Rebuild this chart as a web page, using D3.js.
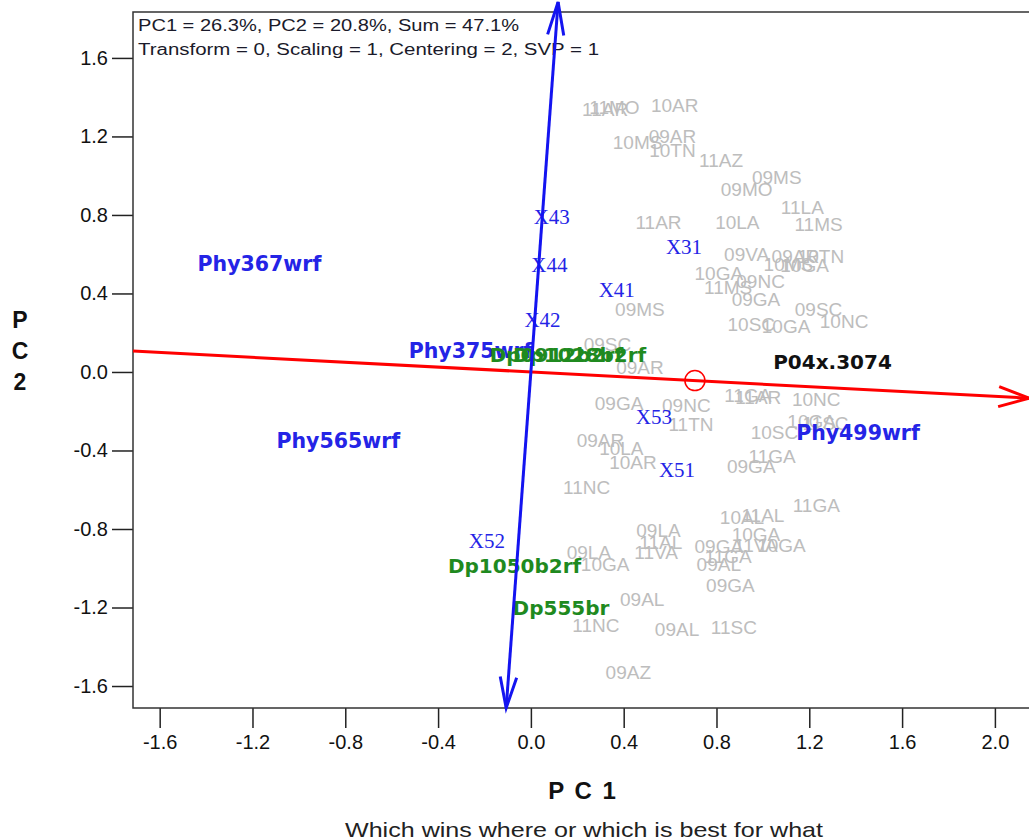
<!DOCTYPE html>
<html>
<head>
<meta charset="utf-8">
<script src="https://cdn.jsdelivr.net/npm/d3@7"></script>
<style>
  body { margin: 0; background: #fff; }
  svg { display: block; }
</style>
</head>
<body>
<svg id="biplot" width="1029" height="840"></svg>
<script>
// environments (gray labels)
const envLabels = ["11AR","11MO","10AR","10MS","09AR","10TN","11AZ","09MS","09MO","11LA","11MS","11AR","10LA",
  "09VA","09AR","10TN","10MS","10GA","10GA","09NC","11MS","09GA","09MS","09SC","10NC","10SC","10GA","09SC","09AR",
  "11GA","11AR","10NC","10GA","11SC","10SC","11GA","09GA","09GA","09NC","11TN","09AR","10LA","10AR","11NC",
  "11GA","10AL","11AL","09LA","10GA","11AL","09GA","11VA","10GA","09LA","11VA","11GA","10GA","09AL","09GA",
  "09AL","11NC","09AL","11SC","09AZ"];
const envPC1 = [0.32,0.36,0.62,0.46,0.61,0.61,0.82,1.06,0.93,1.17,1.24,0.55,0.89,
  0.93,1.14,1.25,1.11,1.18,0.81,0.99,0.85,0.97,0.47,1.24,1.35,0.95,1.10,0.33,0.47,
  0.935,0.98,1.23,1.21,1.27,1.05,1.04,0.95,0.38,0.67,0.69,0.30,0.39,0.44,0.24,
  1.23,0.91,1.00,0.55,0.97,0.56,0.81,0.97,1.08,0.25,0.54,0.85,0.32,0.81,0.86,
  0.48,0.28,0.63,0.875,0.42];
const envPC2 = [1.34,1.35,1.36,1.17,1.20,1.13,1.08,0.99,0.93,0.84,0.75,0.76,0.76,
  0.60,0.59,0.59,0.55,0.545,0.50,0.46,0.43,0.37,0.32,0.32,0.26,0.245,0.23,0.14,0.025,
  -0.12,-0.13,-0.14,-0.25,-0.26,-0.31,-0.43,-0.48,-0.16,-0.17,-0.265,-0.35,-0.39,-0.46,-0.59,
  -0.68,-0.74,-0.73,-0.805,-0.825,-0.87,-0.89,-0.885,-0.885,-0.92,-0.92,-0.94,-0.98,-0.98,-1.085,
  -1.16,-1.29,-1.31,-1.30,-1.53];

// genotypes
const genoLabels = ["Phy367wrf","Phy375wrf","Phy565wrf","Phy499wrf","X43","X44","X42","X41","X31","X53","X51","X52",
  "Dp0912b2rf","Dp1028b2rf","Dp1050b2rf","Dp555br","P04x.3074"];
const genoPC1 = [-1.17,-0.26,-0.83,1.41,0.09,0.08,0.05,0.37,0.66,0.53,0.63,-0.19,0.11,0.21,-0.07,0.13,1.30];
const genoPC2 = [0.55,0.11,-0.35,-0.31,0.79,0.545,0.265,0.42,0.64,-0.23,-0.50,-0.86,0.085,0.085,-0.99,-1.20,0.05];
const genoGroup = ["phy","phy","phy","phy","x","x","x","x","x","x","x","x","dp","dp","dp","dp","check"];

// average environment coordinate
const aec = [0.707, -0.044];

const xTicks = [-1.6,-1.2,-0.8,-0.4,0.0,0.4,0.8,1.2,1.6,2.0];
const yTicks = [-1.6,-1.2,-0.8,-0.4,0.0,0.4,0.8,1.2,1.6];

const infoLines = ["PC1 = 26.3%, PC2 = 20.8%, Sum = 47.1%",
  "Transform = 0, Scaling = 1, Centering = 2, SVP = 1"];

const svg = d3.select("#biplot");
const frameL = 133, frameT = 12, frameR = 1029, frameB = 708;

const x = d3.scaleLinear().domain([-1.715, 2.147]).range([frameL, frameR]);
const y = d3.scaleLinear().domain([-1.712, 1.834]).range([frameB, frameT]);

const fmt = d => d.toFixed(1);
const sans = "Liberation Sans, Arial, sans-serif";

// axes
const xAxis = svg.append("g")
  .attr("transform", `translate(0,${frameB})`)
  .call(d3.axisBottom(x).tickValues(xTicks).tickFormat(fmt).tickSize(20).tickPadding(7));
const yAxis = svg.append("g")
  .attr("transform", `translate(${frameL},0)`)
  .call(d3.axisLeft(y).tickValues(yTicks).tickFormat(fmt).tickSize(21).tickPadding(4));
[xAxis, yAxis].forEach(a => {
  a.select(".domain").remove();
  a.selectAll("line").attr("stroke", "#222").attr("stroke-width", 1.5);
  a.selectAll("text").attr("font-family", sans)
    .attr("font-size", 20).attr("fill", "#111");
});

// frame
svg.append("rect")
  .attr("x", frameL).attr("y", frameT)
  .attr("width", frameR - frameL + 10).attr("height", frameB - frameT)
  .attr("fill", "none").attr("stroke", "#333").attr("stroke-width", 1.5);

// info text (stretched like the original)
const infoWidths = [381, 461];
svg.selectAll(".info").data(infoLines).join("text")
  .attr("class", "info")
  .attr("x", frameL + 5).attr("y", (d, i) => 31 + i * 24)
  .attr("font-family", sans)
  .attr("font-size", 16).attr("fill", "#1a1a2a")
  .attr("textLength", (d, i) => infoWidths[i])
  .attr("lengthAdjust", "spacingAndGlyphs")
  .text(d => d);

// environment labels
svg.append("g").selectAll("text")
  .data(envLabels).join("text")
  .attr("x", (d, i) => x(envPC1[i]))
  .attr("y", (d, i) => y(envPC2[i]))
  .attr("dy", "0.35em")
  .attr("text-anchor", "middle")
  .attr("font-family", sans)
  .attr("font-size", 19)
  .attr("fill", "#bdbdbd")
  .text(d => d);

// genotype labels
const genoStyle = {
  phy:   {fill: "#2424e6", family: "DejaVu Sans, Verdana, sans-serif", size: 20.5, weight: "bold"},
  x:     {fill: "#2424e6", family: "Liberation Serif, Times New Roman, serif", size: 21, weight: "normal"},
  dp:    {fill: "#1f8a1f", family: "DejaVu Sans, Verdana, sans-serif", size: 20, weight: "bold"},
  check: {fill: "#111111", family: "DejaVu Sans, Verdana, sans-serif", size: 20, weight: "bold"}
};
svg.append("g").selectAll("text")
  .data(genoLabels).join("text")
  .attr("x", (d, i) => x(genoPC1[i]))
  .attr("y", (d, i) => y(genoPC2[i]))
  .attr("dy", "0.35em")
  .attr("text-anchor", "middle")
  .attr("font-family", (d, i) => genoStyle[genoGroup[i]].family)
  .attr("font-size", (d, i) => genoStyle[genoGroup[i]].size)
  .attr("font-weight", (d, i) => genoStyle[genoGroup[i]].weight)
  .attr("fill", (d, i) => genoStyle[genoGroup[i]].fill)
  .text(d => d);

// AEC abscissa (red) and ordinate (blue)
const slope = aec[1] / aec[0];
const redP0 = [x.domain()[0], x.domain()[0] * slope];
const redP1 = [x.domain()[1], x.domain()[1] * slope];
const yTop = y.invert(2);
const blueP0 = [-y.domain()[0] * slope, y.domain()[0]];
const blueP1 = [-yTop * slope, yTop];

function arrowHead(from, to, color, len, half) {
  const fx = x(from[0]), fy = y(from[1]), tx = x(to[0]), ty = y(to[1]);
  const ang = Math.atan2(ty - fy, tx - fx);
  const pts = [
    [tx - len * Math.cos(ang - half), ty - len * Math.sin(ang - half)],
    [tx, ty],
    [tx - len * Math.cos(ang + half), ty - len * Math.sin(ang + half)]
  ];
  svg.append("path")
    .attr("d", d3.line()(pts))
    .attr("fill", "none").attr("stroke", color).attr("stroke-width", 3)
    .attr("stroke-linejoin", "miter");
}

function axisLine(p0, p1, color) {
  svg.append("line")
    .attr("x1", x(p0[0])).attr("y1", y(p0[1]))
    .attr("x2", x(p1[0])).attr("y2", y(p1[1]))
    .attr("stroke", color).attr("stroke-width", 3);
}

axisLine(redP0, redP1, "#ff0000");
arrowHead(redP0, redP1, "#ff0000", 32, 0.32);
axisLine(blueP0, blueP1, "#1414f0");
arrowHead(blueP1, blueP0, "#1414f0", 32, 0.26);
arrowHead(blueP0, blueP1, "#1414f0", 34, 0.24);

// average environment circle
svg.append("circle")
  .attr("cx", x(aec[0])).attr("cy", y(aec[1]))
  .attr("r", 10)
  .attr("fill", "none").attr("stroke", "#ff0000").attr("stroke-width", 1.5);

// axis titles
svg.append("text")
  .attr("x", 583).attr("y", 799)
  .attr("text-anchor", "middle")
  .attr("font-family", sans)
  .attr("font-size", 24).attr("font-weight", "bold").attr("fill", "#111")
  .attr("letter-spacing", 2)
  .text("P C 1");

svg.append("g").selectAll("text")
  .data(["P", "C", "2"]).join("text")
  .attr("x", 20).attr("y", (d, i) => 328 + i * 31)
  .attr("text-anchor", "middle")
  .attr("font-family", sans)
  .attr("font-size", 23).attr("font-weight", "bold").attr("fill", "#111")
  .text(d => d);

svg.append("text")
  .attr("x", 345).attr("y", 837)
  .attr("font-family", sans)
  .attr("font-size", 21).attr("fill", "#222")
  .attr("textLength", 478)
  .attr("lengthAdjust", "spacingAndGlyphs")
  .text("Which wins where or which is best for what");
</script>
</body>
</html>
